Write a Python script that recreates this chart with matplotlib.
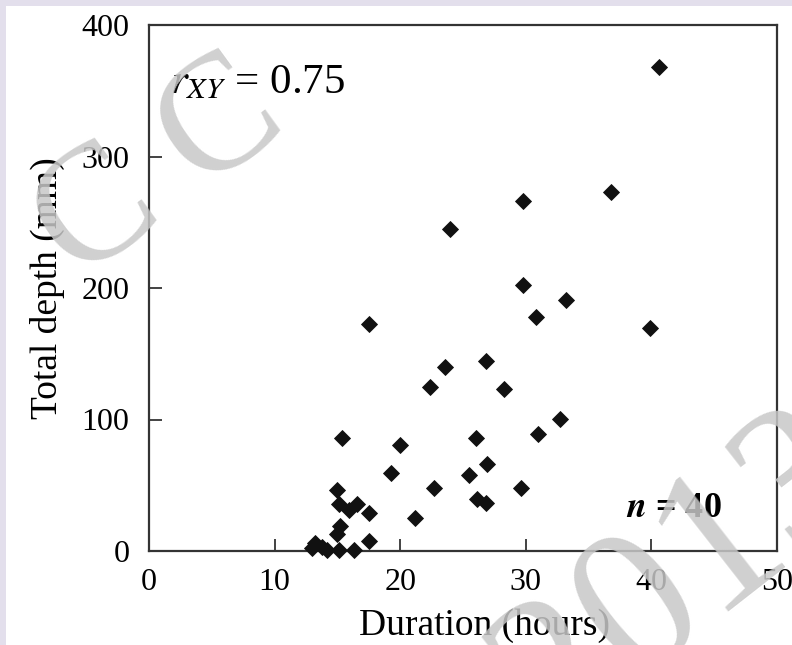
import matplotlib
matplotlib.use("Agg")
import matplotlib.pyplot as plt
from matplotlib.patches import Rectangle

plt.rcParams["font.family"] = ["Liberation Serif", "DejaVu Serif"]
plt.rcParams["mathtext.fontset"] = "stix"

# Storm events: duration (hours) vs total rainfall depth (mm)
duration = [40.6, 36.8, 33.2, 39.9, 29.8, 24.0, 29.8, 30.8, 17.5, 26.8,
            23.6, 22.4, 28.3, 32.7, 31.0, 26.0, 15.35, 20.0, 26.9, 19.3,
            25.5, 22.7, 29.6, 15.0, 26.15, 26.8, 15.15, 16.6, 15.9, 17.5,
            21.2, 15.2, 15.0, 17.5, 13.2, 13.0, 13.75, 14.15, 15.1, 16.3]
depth = [368, 273, 191, 169.5, 266.5, 245, 202.4, 177.8, 172.7, 144.8,
         140.2, 125, 123.5, 100.4, 89, 85.7, 85.7, 80.8, 66.2, 59.3,
         57.8, 48, 48, 46.4, 39.5, 36.5, 35.5, 35.5, 31.5, 29,
         25, 19, 13, 7.5, 6.3, 2, 3.3, 0.8, 0.8, 0.8]

x_ticks = [0, 10, 20, 30, 40, 50]
y_ticks = [0, 100, 200, 300, 400]
r_xy = 0.75
n_events = 40

fig = plt.figure(figsize=(7.92, 6.45), dpi=100)
fig.patch.set_facecolor("white")

# page border strips
fig.patches.append(Rectangle((0, 1 - 6 / 645), 1, 6 / 645, transform=fig.transFigure,
                             facecolor="#e3dfec", edgecolor="none", zorder=0))
fig.patches.append(Rectangle((0, 0), 6 / 792, 1, transform=fig.transFigure,
                             facecolor="#e3dfec", edgecolor="none", zorder=0))

ax = fig.add_axes([149 / 792, 1 - 551 / 645, 628 / 792, 526 / 645])
ax.plot(duration, depth, linestyle="none", marker="D", markersize=8,
        color="#111111", markeredgewidth=0.6, clip_on=False, zorder=3)

ax.set_xlim(0, 50)
ax.set_ylim(0, 400)
ax.set_xticks(x_ticks)
ax.set_yticks(y_ticks)
ax.tick_params(direction="in", length=9, width=1.2, color="#222222",
               labelsize=23, top=False, right=False)
ax.tick_params(axis="x", pad=12)
ax.tick_params(axis="y", pad=14)
for s in ax.spines.values():
    s.set_linewidth(1.6)
    s.set_color("#333333")

ax.set_xlabel("Duration (hours)", fontsize=27)
ax.set_ylabel("Total depth (mm)", fontsize=27)
ax.xaxis.set_label_coords(0.534, -0.110)
ax.yaxis.set_label_coords(-0.134, 0.5)

ax.text(0.033, 0.871, r"$r_{XY}$" + f" = {r_xy:.2f}", transform=ax.transAxes,
        fontsize=31, ha="left", va="baseline")
ax.text(0.912, 0.065, r"$\boldsymbol{n}$" + f" = {n_events}", transform=ax.transAxes,
        fontsize=26, fontweight="bold", ha="right", va="baseline")

# watermark
fig.text(160 / 792, 1 - 172 / 645, "C C", fontsize=120, rotation=36,
         ha="center", va="center", color="#c8c8c8", alpha=0.85, zorder=10)
fig.text(682 / 792, 1 - 578 / 645, "2013", fontsize=148, rotation=38,
         ha="center", va="center", color="#c8c8c8", alpha=0.85, zorder=10)

fig.savefig("out.png", dpi=100, facecolor=fig.get_facecolor())
